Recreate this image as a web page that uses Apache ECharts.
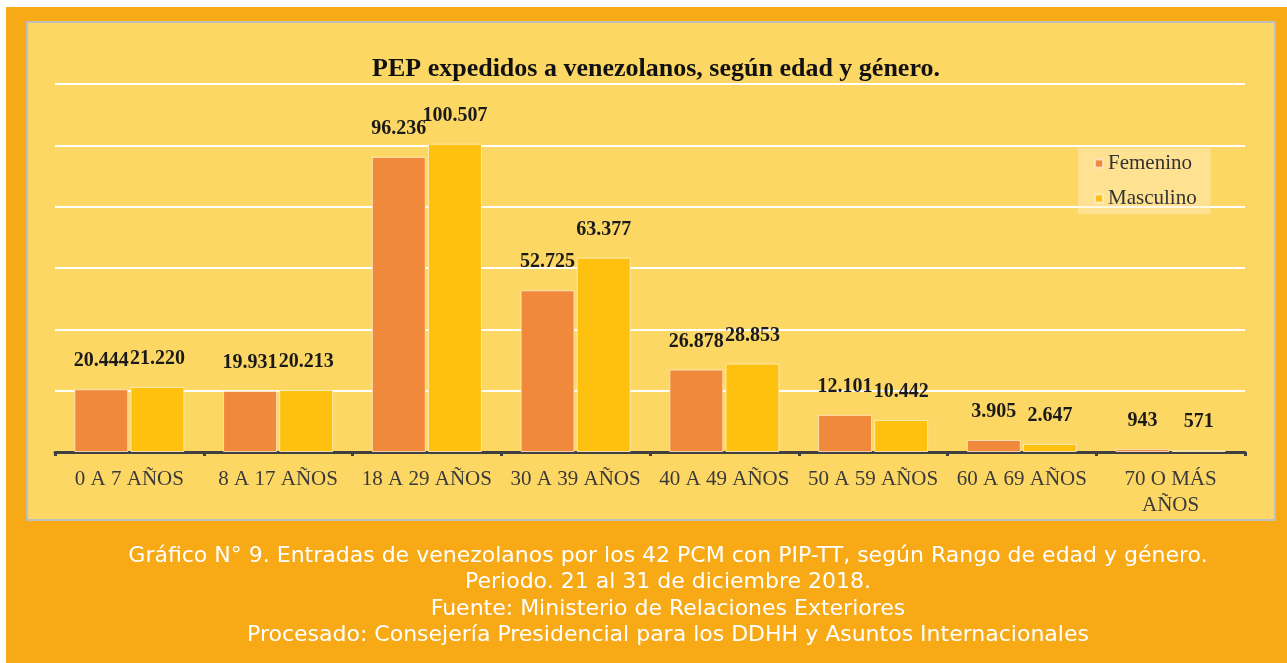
<!DOCTYPE html>
<html>
<head>
<meta charset="utf-8">
<script src="https://cdn.jsdelivr.net/npm/echarts@6/dist/echarts.min.js"></script>
<style>
    html, body {
        margin: 0;
        padding: 0;
        background: #ffffff;
    }
    #chart {
        width: 1287px;
        height: 663px;
    }
</style>
</head>
<body>
<div id="chart"></div>
<script>
// rangos de edad
const categories = ['0 A 7 AÑOS', '8 A 17 AÑOS', '18 A 29 AÑOS', '30 A 39 AÑOS', '40 A 49 AÑOS', '50 A 59 AÑOS', '60 A 69 AÑOS', '70 O MÁS\nAÑOS']
const femenino = [20444, 19931, 96236, 52725, 26878, 12101, 3905, 943]
const masculino = [21220, 20213, 100507, 63377, 28853, 10442, 2647, 571]
const captionLines = [
    'Gráfico N° 9. Entradas de venezolanos por los 42 PCM con PIP-TT, según Rango de edad y género.',
    'Periodo. 21 al 31 de diciembre 2018.',
    'Fuente: Ministerio de Relaciones Exteriores',
    'Procesado: Consejería Presidencial para los DDHH y Asuntos Internacionales'
]

const serif = 'Liberation Serif, Times New Roman, serif'

// 20444 -> 20.444
function fmt(v) {
    return String(v).replace(/\B(?=(\d{3})+(?!\d))/g, '.')
}

let myChart = echarts.init(document.getElementById('chart'))
let option = {
    backgroundColor: 'transparent',
    graphic: [
        {
            type: 'rect',
            z: -10,
            silent: true,
            shape: { x: 6, y: 7, width: 1281, height: 656 },
            style: { fill: '#F7A916' }
        },
        {
            type: 'rect',
            z: -9,
            silent: true,
            shape: { x: 27, y: 22, width: 1248, height: 498 },
            style: { fill: '#FDD764', stroke: '#BFBFBF', lineWidth: 2 }
        }
    ],
    title: [
        {
            text: 'PEP expedidos a venezolanos, según edad y género.',
            left: 651,
            top: 51,
            textAlign: 'center',
            textStyle: {
                color: '#111111',
                fontFamily: serif,
                fontSize: 26,
                fontWeight: 'bold'
            }
        },
        {
            text: captionLines.join('\n'),
            left: 663,
            top: 538,
            textAlign: 'center',
            textStyle: {
                color: '#ffffff',
                fontFamily: 'DejaVu Sans',
                fontSize: 22,
                fontWeight: 'normal',
                lineHeight: 26.5
            }
        }
    ],
    legend: {
        orient: 'vertical',
        left: 1078,
        top: 148,
        padding: [5, 14, 5, 16],
        itemGap: 14,
        itemWidth: 8,
        itemHeight: 8,
        icon: 'rect',
        backgroundColor: 'rgba(255, 240, 200, 0.45)',
        textStyle: {
            color: '#333333',
            fontFamily: serif,
            fontSize: 21
        },
        data: ['Femenino', 'Masculino']
    },
    grid: {
        left: 55,
        right: 42,
        top: 84,
        bottom: 211
    },
    xAxis: {
        type: 'category',
        data: categories,
        axisLine: {
            lineStyle: { color: '#404040', width: 3 }
        },
        axisTick: {
            show: true,
            length: 4,
            lineStyle: { color: '#404040', width: 3 }
        },
        axisLabel: {
            color: '#3a3a3a',
            fontFamily: serif,
            fontSize: 21,
            margin: 14,
            lineHeight: 26,
            interval: 0
        }
    },
    yAxis: {
        type: 'value',
        min: 0,
        max: 120000,
        interval: 20000,
        axisLabel: { show: false },
        axisLine: { show: false },
        axisTick: { show: false },
        splitLine: {
            lineStyle: { color: '#ffffff', width: 2 }
        }
    },
    series: [
        {
            name: 'Femenino',
            type: 'bar',
            data: femenino,
            barCategoryGap: '26%',
            barGap: '4%',
            itemStyle: {
                color: '#F0893B',
                borderColor: 'rgba(255, 235, 200, 0.8)',
                borderWidth: 1
            },
            label: {
                show: true,
                position: 'top',
                distance: 18,
                color: '#1a1a1a',
                fontFamily: serif,
                fontSize: 20,
                fontWeight: 'bold',
                formatter: (p) => fmt(p.value)
            }
        },
        {
            name: 'Masculino',
            type: 'bar',
            data: masculino,
            barCategoryGap: '26%',
            barGap: '4%',
            itemStyle: {
                color: '#FFC110',
                borderColor: 'rgba(255, 240, 200, 0.8)',
                borderWidth: 1
            },
            label: {
                show: true,
                position: 'top',
                distance: 18,
                color: '#1a1a1a',
                fontFamily: serif,
                fontSize: 20,
                fontWeight: 'bold',
                formatter: (p) => fmt(p.value)
            }
        }
    ]
}

option && myChart.setOption(option)
</script>
</body>
</html>
